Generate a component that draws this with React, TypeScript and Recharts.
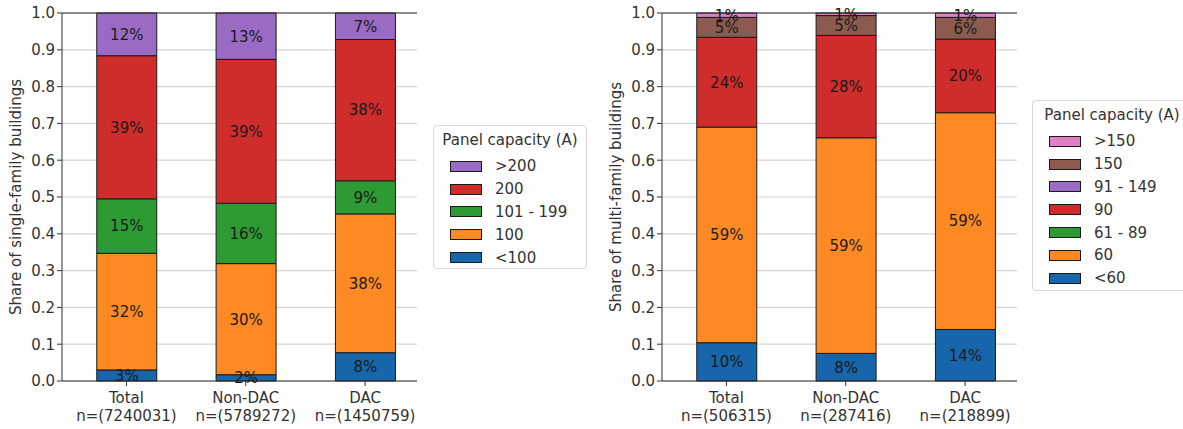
import React from 'react';
import { BarChart, Bar, XAxis, YAxis, CartesianGrid, LabelList, ReferenceLine } from 'recharts';

const categories = ['Total', 'Non-DAC', 'DAC'];
const singleCounts = ['7240031', '5789272', '1450759'];
const multiCounts = ['506315', '287416', '218899'];

// single-family shares per panel band, in category order
const sfUnder100 = [0.03, 0.017, 0.077];
const sf100 = [0.317, 0.302, 0.377];
const sf101to199 = [0.148, 0.164, 0.09];
const sf200 = [0.389, 0.391, 0.384];
const sfOver200 = [0.116, 0.126, 0.072];

// multi-family shares per panel band
const mfUnder60 = [0.104, 0.075, 0.14];
const mf60 = [0.586, 0.586, 0.589];
const mf61to89 = [0, 0, 0];
const mf90 = [0.244, 0.278, 0.2];
const mf91to149 = [0, 0, 0];
const mf150 = [0.054, 0.054, 0.059];
const mfOver150 = [0.012, 0.007, 0.012];

const sfBands = ['<100', '100', '101 - 199', '200', '>200'];
const mfBands = ['<60', '60', '61 - 89', '90', '91 - 149', '150', '>150'];
const yTicks = [0, 0.1, 0.2, 0.3, 0.4, 0.5, 0.6, 0.7, 0.8, 0.9, 1.0];
const xTicks = [0, 1, 2];

const sfColors = ['#1765ab', '#ff8a24', '#2e9a34', '#cf2c2c', '#9a6bc4'];
const mfColors = ['#1765ab', '#ff8a24', '#2e9a34', '#cf2c2c', '#9a6bc4', '#8c5a4e', '#e07fc4'];

const FONT = '"DejaVu Sans", sans-serif';

const buildRows = (counts: string[], series: number[][]) =>
  categories.map((name, i) => {
    const row: any = { idx: i, name, n: counts[i] };
    series.forEach((s, k) => {
      row['b' + k] = s[i];
    });
    return row;
  });

const sfData = buildRows(singleCounts, [sfUnder100, sf100, sf101to199, sf200, sfOver200]);
const mfData = buildRows(multiCounts, [mfUnder60, mf60, mf61to89, mf90, mf91to149, mf150, mfOver150]);

const CategoryTick = ({ x, y, payload, data }: any) => {
  const row = data[Math.round(payload.value)];
  if (!row) return null;
  return (
    <text x={x} y={y} textAnchor="middle" fill="#333" fontSize={15} fontFamily={FONT}>
      <tspan x={x} dy={15}>{row.name}</tspan>
      <tspan x={x} dy={18}>{`n=(${row.n})`}</tspan>
    </text>
  );
};

const StackPanel = ({ data, bands, colors, yLabel }: any) => (
  <BarChart
    width={430}
    height={429}
    data={data}
    margin={{ top: 13, right: 13, left: 22, bottom: 8 }}
    barSize={60}
  >
    <CartesianGrid vertical={false} stroke="#d4d4d4" strokeWidth={1.2} />
    <XAxis
      dataKey="idx"
      type="number"
      domain={[-0.54, 2.435]}
      ticks={xTicks}
      allowDataOverflow
      height={40}
      interval={0}
      tickSize={5}
      stroke="#333"
      tick={<CategoryTick data={data} />}
    />
    <YAxis
      domain={[0, 1]}
      ticks={yTicks}
      width={40}
      tickSize={5}
      tickMargin={2}
      stroke="#333"
      tickFormatter={(v: number) => v.toFixed(1)}
      tick={{ fill: '#333', fontSize: 15, fontFamily: FONT }}
      label={{
        content: ({ viewBox }: any) => {
          const cx = viewBox.x - 1;
          const cy = viewBox.y + viewBox.height / 2;
          return (
            <text
              x={cx}
              y={cy}
              transform={`rotate(-90, ${cx}, ${cy})`}
              textAnchor="middle"
              fill="#333"
              fontSize={15}
              fontFamily={FONT}
            >
              {yLabel}
            </text>
          );
        },
      }}
    />
    <YAxis yAxisId="frame" orientation="right" domain={[0, 1]} tick={false} tickLine={false} width={0} stroke="#333" />
    <ReferenceLine y={1} stroke="#333" />
    {bands.map((b: string, k: number) => (
      <Bar
        key={b}
        dataKey={'b' + k}
        name={b}
        stackId="s"
        fill={colors[k]}
        stroke="#1a1a1a"
        strokeWidth={1}
        isAnimationActive={false}
      >
        <LabelList
          dataKey={'b' + k}
          position="center"
          fill="#1a1a1a"
          fontSize={15}
          fontFamily={FONT}
          formatter={(v: any) => (v > 0 ? `${Math.round(v * 100)}%` : '')}
        />
      </Bar>
    ))}
  </BarChart>
);

const LegendBox = ({ bands, colors, left, top, width, height }: any) => (
  <div
    style={{
      position: 'absolute',
      left,
      top,
      width,
      height,
      border: '1px solid #d8d8d8',
      borderRadius: 4,
      background: '#fff',
      boxSizing: 'border-box',
      fontFamily: FONT,
      fontSize: 15,
      color: '#333',
      padding: '5px 0 0 0',
    }}
  >
    <div style={{ textAlign: 'center', lineHeight: '18px', marginBottom: 6, whiteSpace: 'nowrap' }}>Panel capacity (A)</div>
    {[...bands].reverse().map((b: string, i: number) => {
      const k = bands.length - 1 - i;
      return (
        <div key={b} style={{ display: 'flex', alignItems: 'center', height: 22.8, paddingLeft: 16 }}>
          <span
            style={{
              display: 'inline-block',
              width: 32,
              height: 11,
              background: colors[k],
              border: '1px solid #1a1a1a',
              boxSizing: 'border-box',
              marginRight: 13,
            }}
          />
          <span style={{ whiteSpace: 'nowrap' }}>{b}</span>
        </div>
      );
    })}
  </div>
);

export default function App() {
  return (
    <div style={{ position: 'absolute', left: 0, top: 0, width: 1183, height: 429, background: '#fff', overflow: 'hidden' }}>
      <div style={{ position: 'absolute', left: 0, top: 0 }}>
        <StackPanel data={sfData} bands={sfBands} colors={sfColors} yLabel="Share of single-family buildings" />
      </div>
      <LegendBox bands={sfBands} colors={sfColors} left={433} top={125} width={154} height={144} />
      <div style={{ position: 'absolute', left: 600, top: 0 }}>
        <StackPanel data={mfData} bands={mfBands} colors={mfColors} yLabel="Share of multi-family buildings" />
      </div>
      <LegendBox bands={mfBands} colors={mfColors} left={1032} top={100} width={160} height={191} />
    </div>
  );
}
